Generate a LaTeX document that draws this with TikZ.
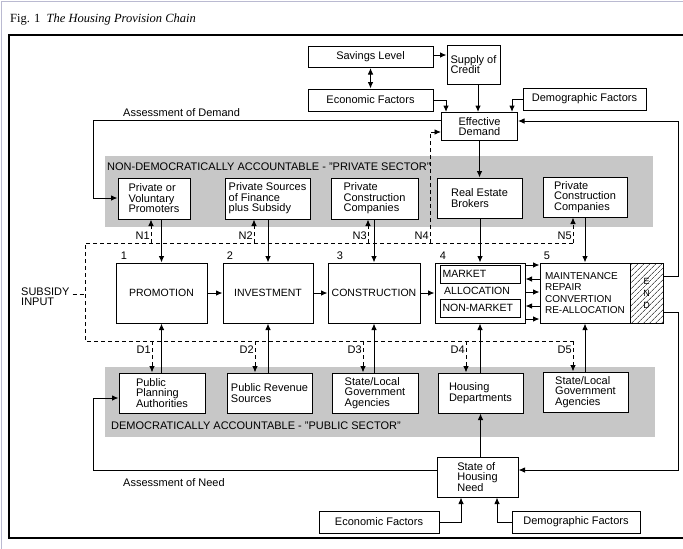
\documentclass[tikz,border=0pt]{standalone}
\usepackage{fontspec}
\setmainfont{Liberation Serif}
\setsansfont{Liberation Sans}
\usetikzlibrary{arrows.meta,patterns.meta}

\begin{document}
\begin{tikzpicture}[x=1pt,y=-1pt,
  every node/.style={font=\sffamily\fontsize{11}{10.5}\selectfont},
  box/.style={draw,line width=1pt,fill=white,inner sep=0pt,align=left},
  proc/.style={box,minimum height=60pt,align=center,font=\sffamily\fontsize{10.5}{11}\selectfont},
  tip/.style={-{Latex[length=6.5pt,width=5.5pt]}},
  link/.style={line width=1pt,tip},
  dashline/.style={line width=0.9pt,dash pattern=on 4pt off 3pt},
  dlink/.style={dashline,tip},
  band/.style={fill=black!22},
  tag/.style={anchor=east,inner sep=1pt},
]
% canvas and frames
\fill[white] (0,0) rectangle (683,549);
\useasboundingbox (0,0) rectangle (683,549);
\draw[color=blue!20!gray!45,line width=1pt] (1.5,549) -- (1.5,1.5) -- (683,1.5);
\node[anchor=base west,inner sep=0pt,font=\rmfamily\fontsize{12.5}{14}\selectfont] (title) at (10,22)
  {Fig. 1\enspace\textit{The Housing Provision Chain}};
\draw[line width=1.3pt] (683,35) -- (9,35) -- (9,538) -- (683,538);

% shaded sector bands
\fill[band] (105,156) rectangle (653,227);
\fill[band] (105,367) rectangle (655,437);
\node[anchor=west,inner sep=0pt] (privlbl) at (107,167) {NON-DEMOCRATICALLY ACCOUNTABLE - "PRIVATE SECTOR"};
\node[anchor=west,inner sep=0pt] (publbl) at (111,426) {DEMOCRATICALLY ACCOUNTABLE - "PUBLIC SECTOR"};

% demand side
\node[box,minimum width=125pt,minimum height=21pt,align=center] (sav) at (370.5,57) {Savings Level};
\node[box,minimum width=53pt,minimum height=39pt] (cred) at (473.5,64.5) {Supply of\\Credit};
\node[box,minimum width=125pt,minimum height=22pt,align=center] (ecoT) at (370.5,100) {Economic Factors};
\node[box,minimum width=123pt,minimum height=22pt,align=center] (demT) at (584.5,99) {Demographic Factors};
\node[box,minimum width=76pt,minimum height=28pt,align=center] (ed) at (479.5,126.5) {Effective\\Demand};

% private sector agents
\node[box,minimum width=72pt,minimum height=41pt] (pp) at (154,198.5) {Private or\\Voluntary\\Promoters};
\node[box,minimum width=85pt,minimum height=41pt] (pf) at (267.5,198.5) {Private Sources\\of Finance\\plus Subsidy};
\node[box,minimum width=87pt,minimum height=41pt] (pc1) at (374.5,198.5) {Private\\Construction\\Companies};
\node[box,minimum width=85pt,minimum height=40pt] (reb) at (479.5,198) {Real Estate\\Brokers};
\node[box,minimum width=84pt,minimum height=40pt] (pc2) at (585,197) {Private\\Construction\\Companies};

% provision chain
\node[proc,minimum width=91pt] (prom) at (161.5,293) {PROMOTION};
\node[proc,minimum width=90pt] (inv) at (268,293) {INVESTMENT};
\node[proc,minimum width=92pt] (cons) at (374,293) {CONSTRUCTION};
\node[proc,minimum width=90pt] (alloc) at (480,293) {};
\node[box,minimum width=80pt,minimum height=18pt,text width=75pt,inner xsep=2.5pt,font=\sffamily\fontsize{10.5}{11}\selectfont] (mkt) at (480,274) {MARKET};
\node[anchor=west,inner sep=0pt,font=\sffamily\fontsize{10.5}{11}\selectfont] (alloctxt) at (444,291) {ALLOCATION};
\node[box,minimum width=80pt,minimum height=18pt,text width=75pt,inner xsep=2.5pt,font=\sffamily\fontsize{10.5}{11}\selectfont] (nmkt) at (480,308) {NON-MARKET};
\node[proc,minimum width=90pt,align=left,font=\sffamily\fontsize{10}{11.3}\selectfont] (maint) at (585,293)
  {MAINTENANCE\\REPAIR\\CONVERTION\\RE-ALLOCATION};
\node[draw,line width=1pt,inner sep=0pt,minimum width=33pt,minimum height=60pt,
  pattern={Lines[angle=45,distance=4pt,line width=0.6pt]}] (endbox) at (646.5,293) {};
\node[align=center,font=\sffamily\fontsize{9}{12}\selectfont] (endtxt) at (endbox.center) {E\\N\\D};

\node (num1) at (124,256) {1};
\node (num2) at (230,256) {2};
\node (num3) at (340,256) {3};
\node (num4) at (443,256) {4};
\node (num5) at (547,256) {5};

\node[anchor=west,align=left,font=\sffamily\fontsize{11}{10}\selectfont,inner sep=0pt] (sub) at (21,297) {SUBSIDY\\INPUT};

% public sector agents
\node[box,minimum width=86pt,minimum height=40pt] (ppa) at (162,393) {Public\\Planning\\Authorities};
\node[box,minimum width=85pt,minimum height=40pt] (prs) at (269.5,393) {Public Revenue\\Sources};
\node[box,minimum width=86pt,minimum height=40pt] (slg1) at (375,393) {State/Local\\Government\\Agencies};
\node[box,minimum width=85pt,minimum height=40pt] (hd) at (480.5,393) {Housing\\Departments};
\node[box,minimum width=85pt,minimum height=40pt] (slg2) at (585.5,392) {State/Local\\Government\\Agencies};

% need side
\node[box,minimum width=81pt,minimum height=40pt] (soh) at (477.5,477) {State of\\Housing\\Need};
\node[box,minimum width=120pt,minimum height=22pt,align=center] (ecoB) at (379,522) {Economic Factors};
\node[box,minimum width=128pt,minimum height=22pt,align=center] (demB) at (576,522) {Demographic Factors};

\node[anchor=base west,inner sep=0pt] (aod) at (123,116) {Assessment of Demand};
\node[anchor=base west,inner sep=0pt] (aon) at (123,486) {Assessment of Need};

% demand connectors
\draw[link] (sav.east |- 0,55) -- (cred.west |- 0,55);
\draw[line width=1pt,{Latex[length=6.5pt,width=5.5pt]}-{Latex[length=6.5pt,width=5.5pt]}] (sav.south) -- (ecoT.north);
\draw[link] (ecoT.east) -| ([xshift=5pt]ed.north west);
\draw[link] (cred.south -| 478,0) -- (ed.north -| 478,0);
\draw[link] (demT.west) -| ([xshift=-6pt]ed.north east);
\draw[link] (ed.south) -- (reb.north);

% subsidy frame and its branches
\coordinate (n1) at (151,243);
\coordinate (n2) at (254,243);
\coordinate (n3) at (368,243);
\coordinate (n4) at (430,243);
\coordinate (n5) at (573,243);
\coordinate (d1) at (152,341);
\coordinate (d2) at (255,341);
\coordinate (d3) at (363,341);
\coordinate (d4) at (466,341);
\coordinate (d5) at (573,341);
\coordinate (sl) at (85,294);
\draw[dashline] (n5) -- (85,243) -- (85,341) -- (d5);
\draw[dashline] ([xshift=3pt]sub.east |- sl) -- (sl);
\draw[dlink] (n1) -- (n1 |- pp.south);
\draw[dlink] (n2) -- (n2 |- pf.south);
\draw[dlink] (n3) -- (n3 |- pc1.south);
\draw[dlink] (n4) |- (ed.west |- 0,132);
\draw[dlink] (n5) -- (n5 |- pc2.south);
\draw[dlink] (d1) -- (d1 |- ppa.north);
\draw[dlink] (d2) -- (d2 |- prs.north);
\draw[dlink] (d3) -- (d3 |- slg1.north);
\draw[dlink] (d4) -- (d4 |- hd.north);
\draw[dlink] (d5) -- (d5 |- slg2.north);
\node[tag] (ln1) at (n1 |- 0,236) {N1};
\node[tag] (ln2) at (n2 |- 0,236) {N2};
\node[tag] (ln3) at (n3 |- 0,236) {N3};
\node[tag] (ln4) at (n4 |- 0,236) {N4};
\node[tag] (ln5) at (n5 |- 0,236) {N5};
\node[tag] (ld1) at (d1 |- 0,350) {D1};
\node[tag] (ld2) at (d2 |- 0,350) {D2};
\node[tag] (ld3) at (d3 |- 0,350) {D3};
\node[tag] (ld4) at (d4 |- 0,350) {D4};
\node[tag] (ld5) at (d5 |- 0,350) {D5};

% chain connectors
\draw[link] (prom) -- (inv);
\draw[link] (inv) -- (cons);
\draw[link] (cons) -- (alloc);
\draw[link] (alloc.east |- 0,265) -- (maint.west |- 0,265);
\draw[link] (maint.west |- 0,279) -- (alloc.east |- 0,279);
\draw[link] (alloc.east |- 0,292) -- (maint.west |- 0,292);
\draw[link] (maint.west |- 0,306) -- (alloc.east |- 0,306);
\draw[link] (alloc.east |- 0,319) -- (maint.west |- 0,319);

% agents into the chain
\draw[link] (pp.south -| prom.north) -- (prom.north);
\draw[link] (pf.south -| inv.north) -- (inv.north);
\draw[link] (pc1.south -| cons.north) -- (cons.north);
\draw[link] (reb.south -| alloc.north) -- (alloc.north);
\draw[link] (pc2.south -| maint.north) -- (maint.north);
\draw[link] (ppa.north -| prom.south) -- (prom.south);
\draw[link] (prs.north -| inv.south) -- (inv.south);
\draw[link] (slg1.north -| cons.south) -- (cons.south);
\draw[link] (hd.north -| alloc.south) -- (alloc.south);
\draw[link] (slg2.north -| maint.south) -- (maint.south);
\draw[link] (soh.north -| hd.south) -- (hd.south);

% feedback loops
\draw[link] (ed.west |- 0,120) -- (93,120) -- (93,198) -- (pp.west |- 0,198);
\draw[link] (soh.west |- 0,470) -- (93,470) -- (93,398) -- (ppa.west |- 0,398);
\draw[link] (endbox.east |- 0,276) -- (678,276) -- (678,121) -- (ed.east |- 0,121);
\draw[link] (endbox.east |- 0,312) -- (678,312) -- (678,470) -- (soh.east |- 0,470);
\draw[link] (ecoB.east) -| ([xshift=-16.5pt]soh.south);
\draw[link] (demB.west) -| ([xshift=19.5pt]soh.south);
\end{tikzpicture}
\end{document}
